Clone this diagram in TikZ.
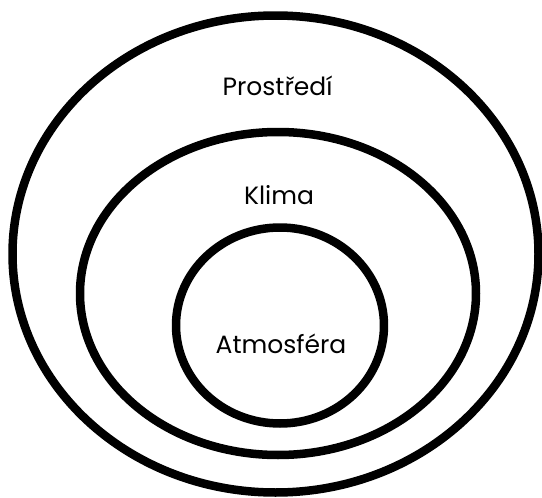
\documentclass[tikz,border=0pt]{standalone}
\usepackage{fontspec}
\setmainfont{Poppins}
\usepackage{tikz}

\begin{document}
\begin{tikzpicture}[x=1pt,y=-1pt,line cap=round,line join=round]
  \useasboundingbox (0,0) rectangle (542,498);
  \coordinate (O) at (275.5,254);
  \coordinate (M) at (278,293.5);
  \coordinate (I) at (280,325.5);
  \draw[line width=8.5pt] (O) ellipse [x radius=263pt,y radius=238.5pt];
  \draw[line width=8.5pt] (M) ellipse [x radius=198pt,y radius=161.5pt];
  \draw[line width=8.5pt] (I) ellipse [x radius=104pt,y radius=98pt];
  \node[font=\fontsize{25}{30}\selectfont] (prostredi) at (277.5,86) {Prostředí};
  \node[font=\fontsize{25}{30}\selectfont] (klima) at (279,195) {Klima};
  \node[font=\fontsize{25}{30}\selectfont] (atmosfera) at (281,344) {Atmosféra};
\end{tikzpicture}
\end{document}
